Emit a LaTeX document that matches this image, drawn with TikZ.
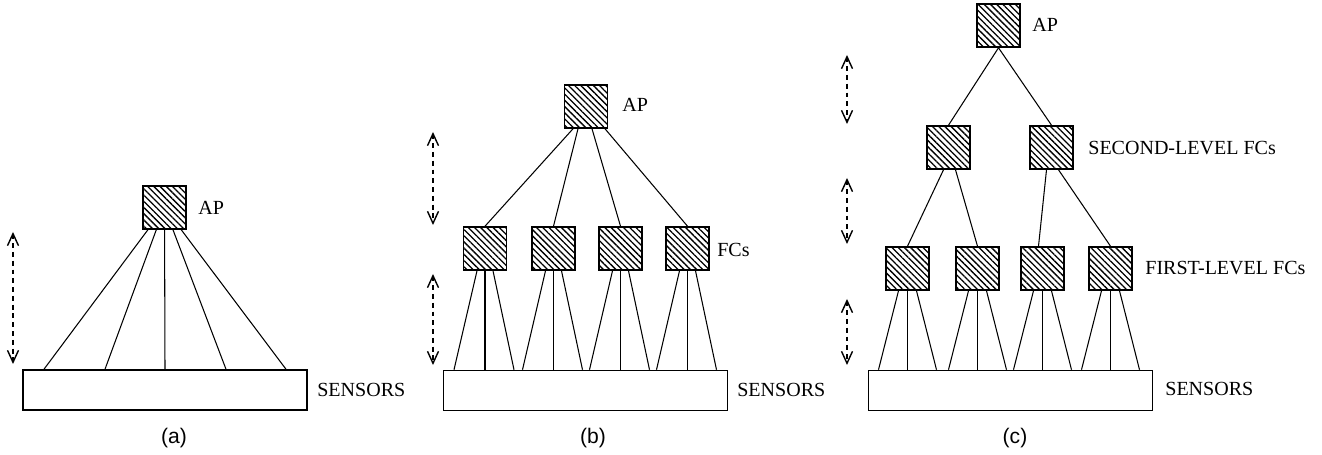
\documentclass[tikz,border=0pt]{standalone}
\usepackage{fontspec}
\setmainfont{Liberation Serif}
\newfontfamily\capfont{Liberation Sans}
\usetikzlibrary{arrows.meta,patterns.meta,calc}

\begin{document}
\begin{tikzpicture}[x=0.02cm, y=-0.02cm, >={Straight Barb[length=2.4mm,width=2.2mm,line width=0.8pt]},
	every node/.style={font=\fontsize{11.4}{13}\selectfont},
	fcbox/.style={draw, line width=0.9pt, minimum size=0.86cm, inner sep=0pt,
		pattern={Lines[angle=-45,distance=2.5pt,line width=0.75pt]}},
	sensbar/.style={draw, line width=0.9pt, minimum width=5.68cm, minimum height=0.8cm, inner sep=0pt},
	link/.style={line width=0.6pt},
	levarrow/.style={<->, line width=0.7pt, dash pattern=on 2.8pt off 2.2pt},
	tag/.style={anchor=west, inner sep=0pt},
	sub/.style={font=\capfont\fontsize{12}{14}\selectfont}]
	\useasboundingbox (0,0) rectangle (1322,455);
	% (a) one AP, sensors directly below
	\begin{scope}
		\node[fcbox] (apA) at (164.5,207.5) {};
		\node[tag] (apAl) at (198,208) {AP};
		\node[sensbar] (snsA) at (165,390) {};
		\node[tag] (snsAl) at (317,390) {SENSORS};
		\foreach \dx in {-121,-60,0,61,121} {\draw[link] (apA) -- ($(snsA.north)+(\dx,0)$);}
		\coordinate (arA1) at (13,232); \coordinate (arA2) at (13,364);
		\draw[levarrow] (arA1) -- (arA2);
		\node[sub] (labA) at (174,438) {(a)};
	\end{scope}
	% (b) AP, one level of FCs
	\begin{scope}
		\node[fcbox] (apB) at (586,106.5) {};
		\node[tag] (apBl) at (622,105) {AP};
		\foreach \x [count=\i] in {485,553.5,620.5,687.5} {\node[fcbox] (fcB\i) at (\x,248.5) {};}
		\node[tag] (fcBl) at (717,250) {FCs};
		\node[sensbar] (snsB) at (585.5,390.5) {};
		\node[tag] (snsBl) at (737,390) {SENSORS};
		\foreach \dx/\i in {-13/1,-8/2,6/3,19/4} {\draw[link] ($(apB.south)+(\dx,0)$) -- (fcB\i.north);}
		\foreach \i in {1,...,4}
			\foreach \dt/\db in {-8/-31,0/0,8/29}
				{\draw[link] ($(fcB\i.south)+(\dt,0)$) -- ($(fcB\i.south |- snsB.north)+(\db,0)$);}
		\coordinate (arB1) at (433,132); \coordinate (arB2) at (433,225);
		\coordinate (arB3) at (433,274); \coordinate (arB4) at (433,365);
		\draw[levarrow] (arB1) -- (arB2);
		\draw[levarrow] (arB3) -- (arB4);
		\node[sub] (labB) at (593,438) {(b)};
	\end{scope}
	% (c) AP, two levels of FCs
	\begin{scope}
		\node[fcbox] (apC) at (998.5,25.5) {};
		\node[tag] (apCl) at (1032,25) {AP};
		\node[fcbox] (slC1) at (948.5,147.5) {};
		\node[fcbox] (slC2) at (1051.5,147.5) {};
		\node[tag] (slCl) at (1088,148) {SECOND-LEVEL FCs};
		\foreach \x [count=\i] in {907.5,977.5,1042.5,1110.5} {\node[fcbox] (flC\i) at (\x,268.5) {};}
		\node[tag] (flCl) at (1145,268) {FIRST-LEVEL FCs};
		\node[sensbar] (snsC) at (1010.5,390.5) {};
		\node[tag] (snsCl) at (1165,389) {SENSORS};
		\draw[link] (apC.south) -- (slC1.north);
		\draw[link] (apC.south) -- (slC2.north);
		\draw[link] ($(slC1.south)+(-5,0)$) -- (flC1.north);
		\draw[link] ($(slC1.south)+(7,0)$) -- (flC2.north);
		\draw[link] ($(slC2.south)+(-5,0)$) -- ($(flC3.north)+(-4,0)$);
		\draw[link] ($(slC2.south)+(7,0)$) -- (flC4.north);
		\foreach \i in {1,...,4}
			\foreach \dt/\db in {-9/-29,0/0,9/29}
				{\draw[link] ($(flC\i.south)+(\dt,0)$) -- ($(flC\i.south |- snsC.north)+(\db,0)$);}
		\coordinate (arC1) at (847,55); \coordinate (arC2) at (847,124);
		\coordinate (arC3) at (847,178); \coordinate (arC4) at (847,244);
		\coordinate (arC5) at (847,299); \coordinate (arC6) at (847,365);
		\draw[levarrow] (arC1) -- (arC2);
		\draw[levarrow] (arC3) -- (arC4);
		\draw[levarrow] (arC5) -- (arC6);
		\node[sub] (labC) at (1015,438) {(c)};
	\end{scope}
\end{tikzpicture}
\end{document}
